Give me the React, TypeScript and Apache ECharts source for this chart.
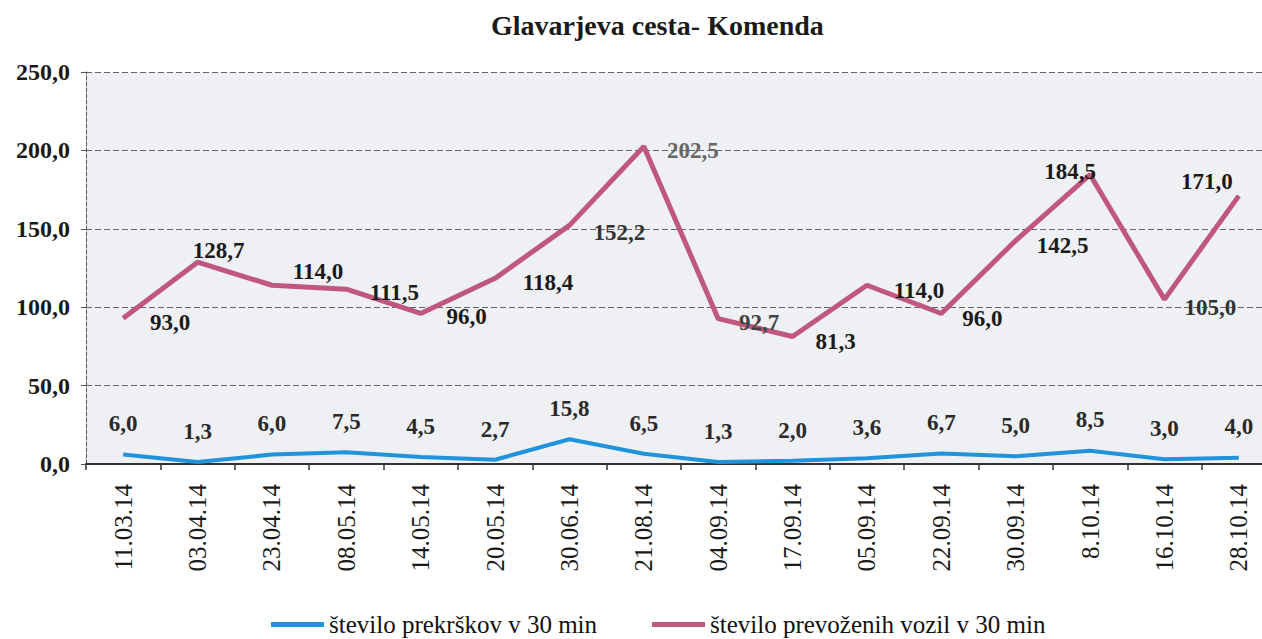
import React, { useEffect, useRef } from "react";
import * as echarts from "echarts";

const categories = [
  "11.03.14", "03.04.14", "23.04.14", "08.05.14", "14.05.14", "20.05.14",
  "30.06.14", "21.08.14", "04.09.14", "17.09.14", "05.09.14", "22.09.14",
  "30.09.14", "8.10.14", "16.10.14", "28.10.14",
];
const prekrski = [6.0, 1.3, 6.0, 7.5, 4.5, 2.7, 15.8, 6.5, 1.3, 2.0, 3.6, 6.7, 5.0, 8.5, 3.0, 4.0];
const vozila = [93.0, 128.7, 114.0, 111.5, 96.0, 118.4, 152.2, 202.5, 92.7, 81.3, 114.0, 96.0, 142.5, 184.5, 105.0, 171.0];
const yTicks = [0, 50, 100, 150, 200, 250];

const seriesNames = ["število prekrškov v 30 min", "število prevoženih vozil v 30 min"];
const titleText = "Glavarjeva cesta- Komenda";

// label placement (style only)
const vozilaLabelOffsets: [number, number][] = [
  [47, 4], [21, -12], [46, -14], [48, 3], [46, 3], [53, 4], [50, 7], [49, 4],
  [41, 4], [43, 5], [52, 5], [41, 5], [47, 5], [-20, -3], [46, 8], [-32, -14],
];
const vozilaLabelColors = [
  "#1a1a1a", "#1a1a1a", "#1a1a1a", "#1a1a1a", "#1a1a1a", "#1a1a1a", "#333", "#666",
  "#444", "#1a1a1a", "#1a1a1a", "#1a1a1a", "#1a1a1a", "#1a1a1a", "#333", "#1a1a1a",
];

const FONT = "'Liberation Serif', 'DejaVu Serif', serif";
const fmt = (v: number) => v.toFixed(1).replace(".", ",");

export default function App() {
  const ref = useRef<HTMLDivElement>(null);
  useEffect(() => {
    if (!ref.current) return;
    const chart = echarts.init(ref.current, null, { renderer: "svg" });
    chart.setOption({
      animation: false,
      backgroundColor: "#ffffff",
      title: {
        text: titleText,
        left: 486,
        top: 6,
        textStyle: { fontFamily: FONT, fontSize: 28, fontWeight: "bold", color: "#1a1a1a" },
      },
      legend: {
        left: 266,
        top: 607,
        icon: "rect",
        itemWidth: 53,
        itemHeight: 5,
        itemGap: 55,
        textStyle: { fontFamily: FONT, fontSize: 25, color: "#111" },
        data: seriesNames,
      },
      grid: {
        left: 86,
        right: 14,
        top: 72,
        bottom: 175,
        show: true,
        backgroundColor: "#eef0f3",
        borderWidth: 0,
      },
      xAxis: {
        type: "category",
        data: categories,
        boundaryGap: true,
        axisLine: { show: true, lineStyle: { color: "#333", width: 2 } },
        axisTick: { show: true, length: 6, lineStyle: { color: "#333", width: 1.5 } },
        axisLabel: {
          rotate: 90,
          margin: 20,
          fontFamily: FONT,
          fontSize: 25,
          color: "#1a1a1a",
        },
        splitLine: { show: false },
      },
      yAxis: {
        type: "value",
        min: yTicks[0],
        max: yTicks[yTicks.length - 1],
        interval: 50,
        axisLine: { show: true, lineStyle: { color: "#555", width: 1, type: "dashed" } },
        axisTick: { show: true, length: 5, lineStyle: { color: "#555" } },
        axisLabel: {
          margin: 16,
          fontFamily: FONT,
          fontSize: 24,
          fontWeight: "bold",
          color: "#1a1a1a",
          formatter: (v: number) => fmt(v),
        },
        splitLine: { show: true, lineStyle: { color: "#666", width: 1, type: [6, 3] } },
      },
      series: [
        {
          name: seriesNames[0],
          type: "line",
          data: prekrski,
          symbol: "circle",
          symbolSize: 0.5,
          showSymbol: true,
          lineStyle: { color: "#1f93dc", width: 4 },
          itemStyle: { color: "#1f93dc" },
          label: {
            show: true,
            position: "top",
            distance: 19,
            fontFamily: FONT,
            fontSize: 23,
            fontWeight: "bold",
            color: "#2a2a2a",
            formatter: (p: any) => fmt(p.value),
          },
          z: 3,
        },
        {
          name: seriesNames[1],
          type: "line",
          data: vozila.map((v, i) => ({
            value: v,
            label: { offset: vozilaLabelOffsets[i], color: vozilaLabelColors[i] },
          })),
          symbol: "circle",
          symbolSize: 0.5,
          showSymbol: true,
          lineStyle: { color: "#c0577f", width: 5 },
          itemStyle: { color: "#c0577f" },
          label: {
            show: true,
            position: "inside",
            fontFamily: FONT,
            fontSize: 23,
            fontWeight: "bold",
            color: "#1a1a1a",
            formatter: (p: any) => fmt(p.value),
          },
          z: 2,
        },
      ],
    });
    return () => chart.dispose();
  }, []);
  return (
    <div style={{ position: "fixed", left: 0, top: 0, width: 1262, height: 639, overflow: "hidden", background: "#fff" }}>
      <div ref={ref} style={{ width: 1290, height: 639 }} />
    </div>
  );
}
